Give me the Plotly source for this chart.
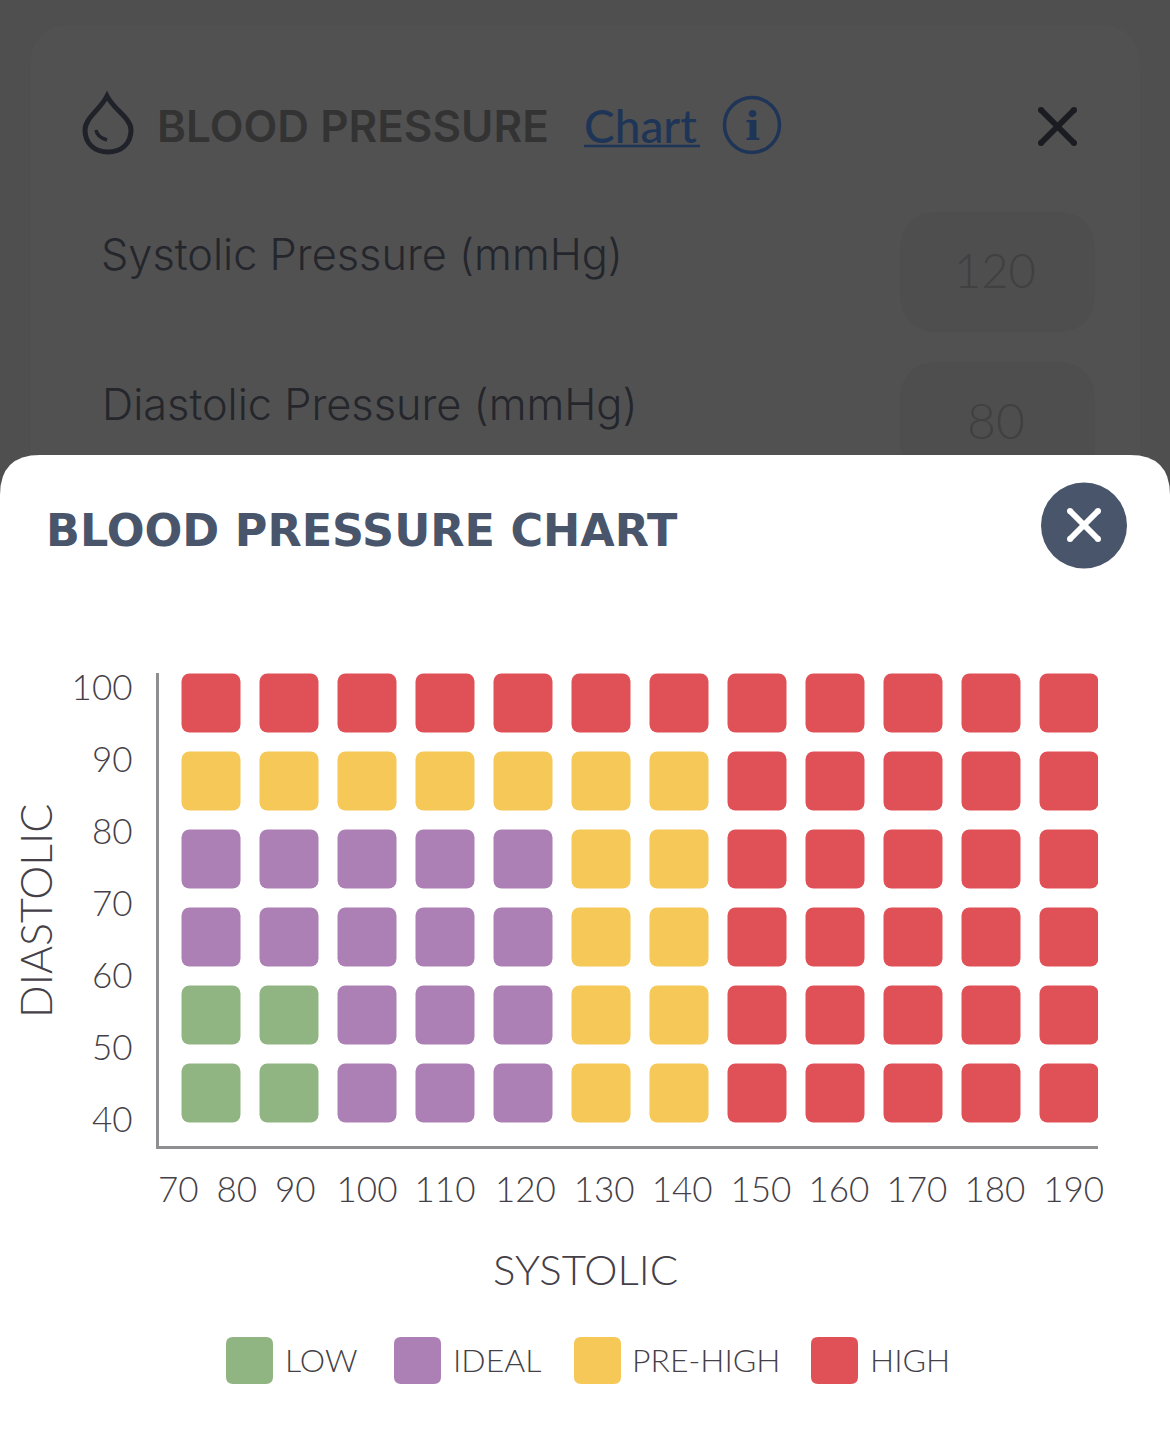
import plotly.graph_objects as go

W, H = 1170, 1453

# ---- data -------------------------------------------------------------
systolic_tick_labels = ["70", "80", "90", "100", "110", "120", "130", "140", "150", "160", "170", "180", "190"]
diastolic_tick_labels = ["40", "50", "60", "70", "80", "90", "100"]
category_names = ["LOW", "IDEAL", "PRE-HIGH", "HIGH"]
category_colors = ["#91b582", "#ac80b4", "#f5c858", "#df5157"]
# one row per band of the chart, bottom to top
row_0 = ["LOW", "LOW", "IDEAL", "IDEAL", "IDEAL", "PRE-HIGH", "PRE-HIGH", "HIGH", "HIGH", "HIGH", "HIGH", "HIGH"]
row_1 = ["LOW", "LOW", "IDEAL", "IDEAL", "IDEAL", "PRE-HIGH", "PRE-HIGH", "HIGH", "HIGH", "HIGH", "HIGH", "HIGH"]
row_2 = ["IDEAL", "IDEAL", "IDEAL", "IDEAL", "IDEAL", "PRE-HIGH", "PRE-HIGH", "HIGH", "HIGH", "HIGH", "HIGH", "HIGH"]
row_3 = ["IDEAL", "IDEAL", "IDEAL", "IDEAL", "IDEAL", "PRE-HIGH", "PRE-HIGH", "HIGH", "HIGH", "HIGH", "HIGH", "HIGH"]
row_4 = ["PRE-HIGH"] * 7 + ["HIGH"] * 5
row_5 = ["HIGH"] * 12
rows = [row_0, row_1, row_2, row_3, row_4, row_5]

# ---- helpers ----------------------------------------------------------
px = lambda x: x / W
py = lambda y: 1 - y / H
shapes, notes = [], []


def P(x, y):
    return f"{px(x):.5f},{py(y):.5f}"


def rrect(x0, y0, x1, y1, r, color):
    d = (f"M {P(x0 + r, y0)} L {P(x1 - r, y0)} Q {P(x1, y0)} {P(x1, y0 + r)} "
         f"L {P(x1, y1 - r)} Q {P(x1, y1)} {P(x1 - r, y1)} L {P(x0 + r, y1)} "
         f"Q {P(x0, y1)} {P(x0, y1 - r)} L {P(x0, y0 + r)} Q {P(x0, y0)} {P(x0 + r, y0)} Z")
    shapes.append(dict(type="path", xref="paper", yref="paper", path=d, fillcolor=color,
                       line_width=0, layer="below"))


def circle(cx, cy, r, fill, line=None, lw=0):
    shapes.append(dict(type="circle", xref="paper", yref="paper", x0=px(cx - r), x1=px(cx + r),
                       y0=py(cy + r), y1=py(cy - r), fillcolor=fill,
                       line=dict(color=line or fill, width=lw), layer="below"))


def stroke(x0, y0, x1, y1, color, w):
    shapes.append(dict(type="line", xref="paper", yref="paper", x0=px(x0), x1=px(x1), y0=py(y0), y1=py(y1),
                       line=dict(color=color, width=w), layer="below"))
    circle(x0, y0, w / 2, color)
    circle(x1, y1, w / 2, color)


def text(s, x, y, size, color, anchor="left", family="Lato", weight=400, angle=0):
    notes.append(dict(text=s, x=px(x), y=py(y), xref="paper", yref="paper", xanchor=anchor, yanchor="middle",
                      showarrow=False, textangle=angle,
                      font=dict(size=size, color=color, family=family, weight=weight)))


# ---- screen behind the sheet -----------------------------------------
BG, CARD = "#4f4f50", "#515152"
rrect(30, 25, 1140, 520, 42, CARD)
rrect(900, 212, 1095, 332, 40, "#4e4e4f")
rrect(900, 362, 1095, 482, 40, "#4e4e4f")

# drop icon
shapes.append(dict(type="path", xref="paper", yref="paper",
                   path=(f"M {P(107, 96)} C {P(100, 110)} {P(85, 118)} {P(85, 130)} "
                         f"C {P(85, 144)} {P(95, 152)} {P(108, 152)} "
                         f"C {P(121, 152)} {P(131, 144)} {P(131, 130)} "
                         f"C {P(131, 118)} {P(114, 110)} {P(107, 96)} Z"),
                   line=dict(color="#20222a", width=5), fillcolor="rgba(0,0,0,0)", layer="below"))
shapes.append(dict(type="path", xref="paper", yref="paper",
                   path=f"M {P(96, 130)} Q {P(97, 137)} {P(107, 140)}",
                   line=dict(color="#20222a", width=3.5), fillcolor="rgba(0,0,0,0)", layer="below"))
text("BLOOD PRESSURE", 155, 126, 44, "#333333", family="Inter", weight=600)
text("Chart", 582, 125, 46, "#1f3557", family="Lato", weight=500)
stroke(585, 146, 699, 146, "#1f3557", 2.5)
circle(752, 125, 27.5, "rgba(0,0,0,0)", "#1f3557", 3.5)
text("i", 752, 126, 40, "#1f3557", anchor="center", family="DejaVu Serif", weight=700)
stroke(1041, 110, 1074, 143, "#1a1c22", 6)
stroke(1041, 143, 1074, 110, "#1a1c22", 6)
text("Systolic Pressure (mmHg)", 99, 254, 43.3, "#24262c", family="Inter", weight=300)
text("Diastolic Pressure (mmHg)", 100, 404, 43.3, "#24262c", family="Inter", weight=300)
text("120", 995, 270, 47, "#404041", anchor="center", family="Lato", weight=300)
text("80", 996, 420, 50, "#404041", anchor="center", family="Lato", weight=300)

# ---- white sheet ------------------------------------------------------
d = (f"M {P(0, 1453)} L {P(0, 495)} Q {P(0, 455)} {P(40, 455)} L {P(1130, 455)} "
     f"Q {P(1170, 455)} {P(1170, 495)} L {P(1170, 1453)} Z")
shapes.append(dict(type="path", xref="paper", yref="paper", path=d, fillcolor="#ffffff", line_width=0, layer="below"))
text("BLOOD PRESSURE CHART", 44, 530, 44.5, "#49556b", family="DejaVu Sans", weight=700)
circle(1084, 525.5, 43, "#49556b")
stroke(1070, 511, 1098, 539, "#ffffff", 6)
stroke(1070, 539, 1098, 511, "#ffffff", 6)

# ---- chart -------------------------------------------------------------
fig = go.Figure()
BAR = 59 / 78
for name, color in zip(category_names, category_colors):
    xs, bases = [], []
    for r, row in enumerate(rows):
        for c, v in enumerate(row):
            if v == name:
                xs.append(c)
                bases.append(r - BAR / 2)
    fig.add_trace(go.Bar(x=xs, y=[BAR] * len(xs), base=bases, width=BAR, name=name,
                         marker=dict(color=color, cornerradius=8, line_width=0), showlegend=False))

TICK = dict(size=35, color="#453f48", family="Lato", weight=300)
x_tick_pos = [-0.42, 0.33, 1.08, 2.0, 3.0, 4.03, 5.04, 6.04, 7.05, 8.05, 9.05, 10.05, 11.06]
y_tick_pos = [-0.346 + i * 72 / 78 for i in range(7)]
LEFT, BOTTOM = 158.5, 1145.5
fig.update_layout(
    width=W, height=H, margin=dict(l=0, r=0, t=0, b=0, autoexpand=False), autosize=False,
    paper_bgcolor=BG, plot_bgcolor="rgba(0,0,0,0)", barmode="overlay", showlegend=False,
    xaxis=dict(domain=[px(LEFT), px(1098)], range=[(LEFT - 211) / 78, 887 / 78], tickmode="array",
               tickvals=x_tick_pos, ticktext=systolic_tick_labels, showgrid=False, zeroline=False,
               showline=True, linecolor="#8f8f92", linewidth=3, ticks="outside", ticklen=11,
               tickcolor="rgba(0,0,0,0)", tickfont=TICK, tickangle=0),
    yaxis=dict(domain=[py(BOTTOM), py(673)], range=[(1093 - BOTTOM) / 78, 420 / 78], tickmode="array",
               tickvals=y_tick_pos, ticktext=diastolic_tick_labels, showgrid=False, zeroline=False,
               showline=True, linecolor="#8f8f92", linewidth=3, ticks="outside", ticklen=16,
               tickcolor="rgba(0,0,0,0)", tickfont=TICK),
)

text("DIASTOLIC", 35, 911, 43, "#453f48", anchor="center", weight=300, angle=-90)
text("SYSTOLIC", 585, 1269, 42, "#453f48", anchor="center", weight=300)

# legend
legend_swatch_left = [226, 394, 574, 811]
legend_text_left = [283, 451, 630, 868]
for name, color, x0, tx in zip(category_names, category_colors, legend_swatch_left, legend_text_left):
    rrect(x0, 1337, x0 + 47, 1384, 7, color)
    text(name, tx, 1359, 32, "#453f48", weight=300)

fig.update_layout(shapes=shapes, annotations=notes)
fig.write_html("out.html", config=dict(displayModeBar=False),
               post_script=("document.documentElement.style.margin='0';"
                            "document.body.style.margin='0';"
                            "document.body.style.background='#4f4f50';"))
